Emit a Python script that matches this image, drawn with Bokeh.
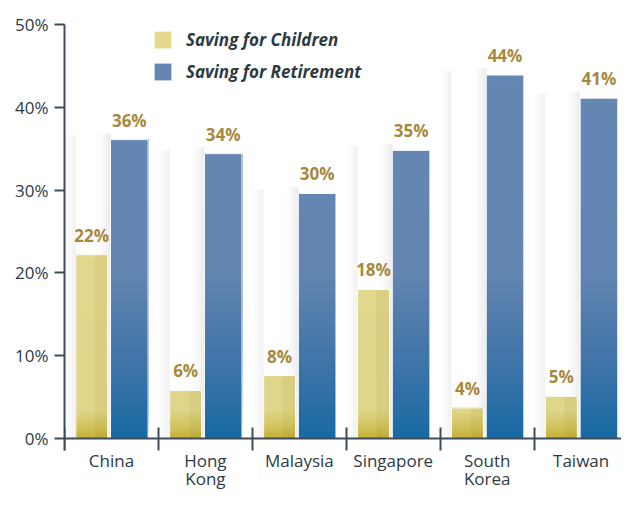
from bokeh.plotting import figure
from bokeh.models import ColumnDataSource, FixedTicker, Legend, LegendItem, LinearAxis
from bokeh.core.properties import value
from bokeh.embed import file_html
from bokeh.resources import INLINE

# ---------------- data ----------------
countries = ["China", "Hong\nKong", "Malaysia", "Singapore", "South\nKorea", "Taiwan"]
children = [22.2, 5.8, 7.6, 18.0, 3.7, 5.1]
retirement = [36.1, 34.4, 29.6, 34.8, 43.9, 41.1]
children_labels = ["22%", "6%", "8%", "18%", "4%", "5%"]
retirement_labels = ["36%", "34%", "30%", "35%", "44%", "41%"]
y_ticks = [0, 10, 20, 30, 40, 50]
y_tick_labels = ["0%", "10%", "20%", "30%", "40%", "50%"]
series_names = ["Saving for Children", "Saving for Retirement"]

# ---------------- styling ----------------
FONT = "Open Sans"
AXIS_COLOR = "#3e4c59"
TEXT_COLOR = "#2d3a44"
LABEL_COLOR = "#a8893c"
CH_OFF, CH_W = -0.21, 0.34
RT_OFF, RT_W = 0.19, 0.40
BLUE_STOPS = [(0, "#176aa3"), (9, "#3f74a8"), (20, "#6385b1"), (50, "#6787b3")]
YEL_STOPS = [(0, "#c4af33"), (1.5, "#d2c460"), (3.5, "#e0d68a"), (50, "#e4dc93")]

W, H = 621, 492
LEFT, TOP = 64, 24
ZERO_Y = 438                      # pixel row of the 0% line
PX_PER_UNIT = (ZERO_Y - TOP) / 50.0
Y_MIN = -(H - ZERO_Y) / PX_PER_UNIT

n = len(countries)
centers = [i + 0.5 for i in range(n)]
bounds = list(range(n + 1))
x_ch = [c + CH_OFF for c in centers]
x_rt = [c + RT_OFF for c in centers]


def hex2rgb(h):
    h = h.lstrip("#")
    return [int(h[i:i + 2], 16) for i in (0, 2, 4)]


def color_at(y, stops):
    if y <= stops[0][0]:
        return stops[0][1]
    for (y0, c0), (y1, c1) in zip(stops[:-1], stops[1:]):
        if y0 <= y <= y1:
            t = (y - y0) / (y1 - y0)
            a, b = hex2rgb(c0), hex2rgb(c1)
            return "#%02x%02x%02x" % tuple(int(round(a[k] + (b[k] - a[k]) * t)) for k in range(3))
    return stops[-1][1]


def slices(xs, vals, stops, step=0.25):
    # each slice runs from its own bottom to the bar top; later (higher) slices paint over
    out = dict(x=[], bottom=[], top=[], color=[])
    for x, v in zip(xs, vals):
        y = 0.0
        while y < v:
            t = min(y + step, v)
            out["x"].append(x)
            out["bottom"].append(y)
            out["top"].append(v)
            out["color"].append(color_at((y + t) / 2, stops))
            y = t
    return out


p = figure(width=W, height=H, x_range=(0, 5.93), y_range=(Y_MIN, 50),
           output_backend="svg", toolbar_location=None, x_axis_location=None,
           min_border_left=LEFT, min_border_right=0, min_border_top=TOP, min_border_bottom=0)
p.outline_line_color = None
p.xgrid.visible = False
p.ygrid.visible = False
p.background_fill_color = "white"

# ---------------- soft shadows left of each bar ----------------
sh = dict(x=[], w=[], top=[], alpha=[])
NS = 7
SW = 0.022
for i in range(n):
    for xc, bw, top, amax in ((x_ch[i], CH_W, retirement[i] + 0.5, 0.10),
                              (x_rt[i], RT_W, retirement[i] + 0.8, 0.14)):
        left = xc - bw / 2
        for k in range(NS):
            sh["x"].append(left - (k + 0.5) * SW)
            sh["w"].append(SW)
            sh["top"].append(top)
            sh["alpha"].append(amax * (1 - k / NS) ** 1.6)
p.vbar(x="x", width="w", bottom=0, top="top", source=ColumnDataSource(sh),
       fill_color="#808080", fill_alpha="alpha", line_color=None)

# ---------------- gradient bars ----------------
ch_data = slices(x_ch, children, YEL_STOPS)
rt_data = slices(x_rt, retirement, BLUE_STOPS)
r_ch = p.vbar(x="x", width=CH_W, bottom="bottom", top="top", fill_color="color", line_color=None,
              source=ColumnDataSource(ch_data))
r_rt = p.vbar(x="x", width=RT_W, bottom="bottom", top="top", fill_color="color", line_color=None,
              source=ColumnDataSource(rt_data))
# slight darkening on the right side of the yellow bars
p.vbar(x=[x + CH_W * 0.3 for x in x_ch], width=CH_W * 0.4, bottom=0, top=children,
       fill_color="#7a6a10", fill_alpha=0.07, line_color=None)
# thin white outlines
p.vbar(x=x_ch, width=CH_W, bottom=0, top=children, fill_color=None, line_color="white", line_width=1)
p.vbar(x=x_rt, width=RT_W, bottom=0, top=retirement, fill_color=None, line_color="white", line_width=1)

# ---------------- value labels ----------------
for xs, vals, labs in ((x_ch, children, children_labels), (x_rt, retirement, retirement_labels)):
    p.text(x=xs, y=vals, text=labs, text_align="center", text_baseline="bottom", y_offset=-8,
           text_font=value(FONT), text_font_style="bold", text_font_size="17px", text_color=LABEL_COLOR)

# ---------------- category labels (below the 0% line, inside the frame) ----------------
p.text(x=centers, y=[0] * n, text=countries, text_align="center", text_baseline="top", y_offset=10,
       text_font=value(FONT), text_font_size="17px", text_color=TEXT_COLOR, text_line_height=0.8)

# ---------------- legend ----------------
idx_ch = max(i for i in range(len(ch_data["x"])) if ch_data["x"][i] == x_ch[0])
idx_rt = max(i for i in range(len(rt_data["x"])) if rt_data["x"][i] == x_rt[0])
legend = Legend(items=[LegendItem(label=series_names[0], renderers=[r_ch], index=idx_ch),
                       LegendItem(label=series_names[1], renderers=[r_rt], index=idx_rt)],
                location=(88, H - 83), glyph_width=21, glyph_height=21, label_height=21,
                spacing=9, padding=0, margin=0, label_standoff=13,
                border_line_color=None, background_fill_alpha=0,
                label_text_font=FONT, label_text_font_style="bold italic",
                label_text_font_size="17px", label_text_color=TEXT_COLOR)
p.add_layout(legend)

# ---------------- axes ----------------
yax = p.yaxis[0]
yax.ticker = FixedTicker(ticks=y_ticks)
yax.bounds = (-12 / PX_PER_UNIT, 50)
yax.major_label_overrides = {t: l for t, l in zip(y_ticks, y_tick_labels)}
yax.major_tick_in = 0
yax.major_tick_out = 10
yax.minor_tick_line_color = None
yax.axis_line_color = AXIS_COLOR
yax.axis_line_width = 2
yax.major_tick_line_color = AXIS_COLOR
yax.major_tick_line_width = 2
yax.major_label_standoff = 6
yax.major_label_text_font = FONT
yax.major_label_text_font_size = "17px"
yax.major_label_text_color = TEXT_COLOR

# category axis: line at 0% with separator ticks between the countries
xax = LinearAxis(fixed_location=0, ticker=FixedTicker(ticks=[], minor_ticks=bounds),
                 major_label_text_font_size="0px", major_tick_line_color=None,
                 major_label_standoff=0, minor_tick_in=12, minor_tick_out=11,
                 minor_tick_line_color=AXIS_COLOR, minor_tick_line_width=2,
                 axis_line_color=AXIS_COLOR, axis_line_width=2)
p.add_layout(xax, "above")

open("out.html", "w").write(file_html(p, INLINE))
